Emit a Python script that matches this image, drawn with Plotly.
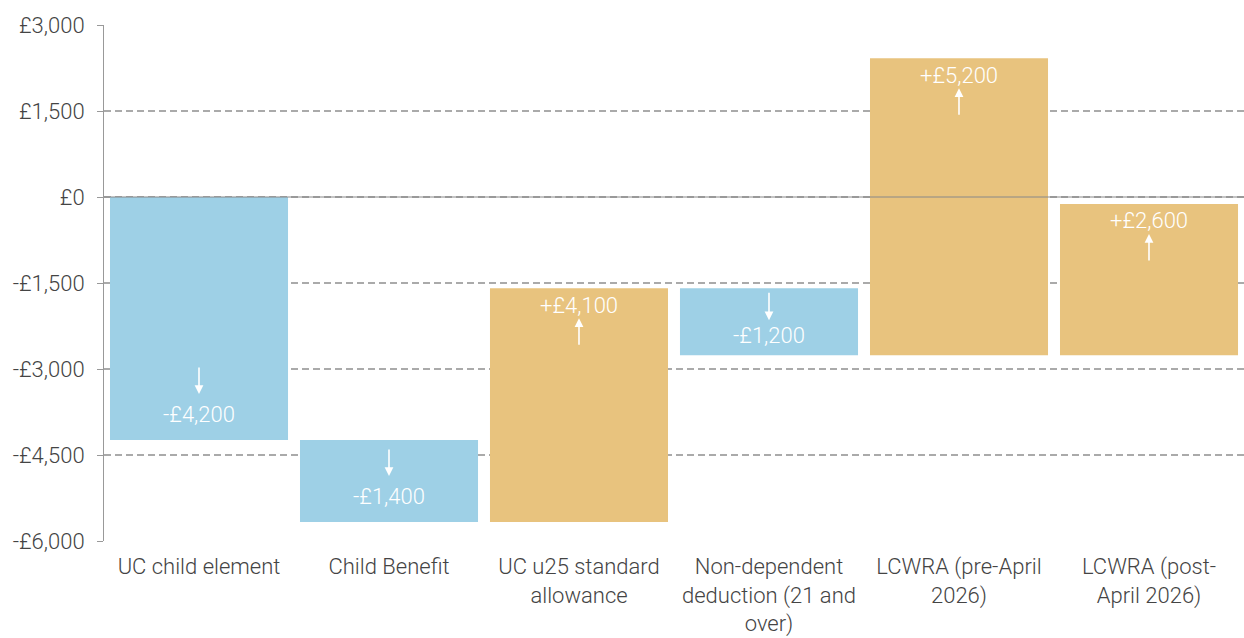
import plotly.graph_objects as go

categories = ["UC child element", "Child Benefit", "UC u25 standard<br>allowance",
              "Non-dependent<br>deduction (21 and<br>over)", "LCWRA (pre-April<br>2026)",
              "LCWRA (post-<br>April 2026)"]
bar_start = [0, -4240, -5670, -1590, -2760, -2760]
bar_change = [-4240, -1430, 4080, -1170, 5180, 2640]
value_labels = ["-£4,200", "-£1,400", "+£4,100", "-£1,200", "+£5,200", "+£2,600"]

tick_vals = [3000, 1500, 0, -1500, -3000, -4500, -6000]
tick_text = ["£3,000", "£1,500", "£0", "-£1,500", "-£3,000", "-£4,500", "-£6,000"]

BLUE = "#9ED0E6"
GOLD = "#E8C37E"
colors = [BLUE if c < 0 else GOLD for c in bar_change]

fig = go.Figure()
fig.add_trace(go.Bar(
    x=categories, y=bar_change, base=bar_start, marker_color=colors,
    marker_line_width=0, width=0.937, hoverinfo="skip"))

font_fam = "Roboto"
anns = []
for cat, s, c, lab in zip(categories, bar_start, bar_change, value_labels):
    end = s + c
    if c < 0:
        short = abs(c) < 1300
        anns.append(dict(x=cat, y=end, text="", showarrow=True, arrowhead=2,
                         arrowsize=1.1, arrowwidth=1.6, arrowcolor="white",
                         ax=0, ay=-29 if short else -28, axref="pixel", ayref="pixel",
                         yshift=35 if short else 46))
        anns.append(dict(x=cat, y=end, text=lab, showarrow=False, yshift=20 if short else 26,
                         font=dict(family=font_fam, size=22, color="white", weight=300)))
    else:
        anns.append(dict(x=cat, y=end, text="", showarrow=True, arrowhead=2,
                         arrowsize=1.1, arrowwidth=1.6, arrowcolor="white",
                         ax=0, ay=28, axref="pixel", ayref="pixel", yshift=-30))
        anns.append(dict(x=cat, y=end, text=lab, showarrow=False, yshift=-17,
                         font=dict(family=font_fam, size=22, color="white", weight=300)))

fig.update_layout(
    width=1244, height=638,
    margin=dict(l=104, r=0, t=25, b=97),
    paper_bgcolor="white", plot_bgcolor="white",
    showlegend=False, bargap=0.063,
    annotations=anns,
    font=dict(family=font_fam, size=22, color="#444", weight=300),
    shapes=[dict(type="line", xref="paper", x0=0, x1=1, yref="y", y0=0, y1=0,
                 line=dict(color="#888", width=1), layer="above")],
)
fig.update_yaxes(
    range=[-6000, 3000], tickvals=tick_vals, ticktext=tick_text,
    showgrid=True, gridcolor="#aaaaaa", gridwidth=2, griddash="7px,4px",
    zeroline=False, showline=True, linecolor="#999", linewidth=1,
    ticks="outside", ticklen=6, tickcolor="#999", ticklabelstandoff=8,
    tickfont=dict(family=font_fam, size=22, color="#444", weight=300),
)
fig.update_xaxes(
    showgrid=False, showline=False, ticks="", ticklabelstandoff=10,
    tickfont=dict(family=font_fam, size=22, color="#444", weight=300),
)

fig.write_html("out.html")
